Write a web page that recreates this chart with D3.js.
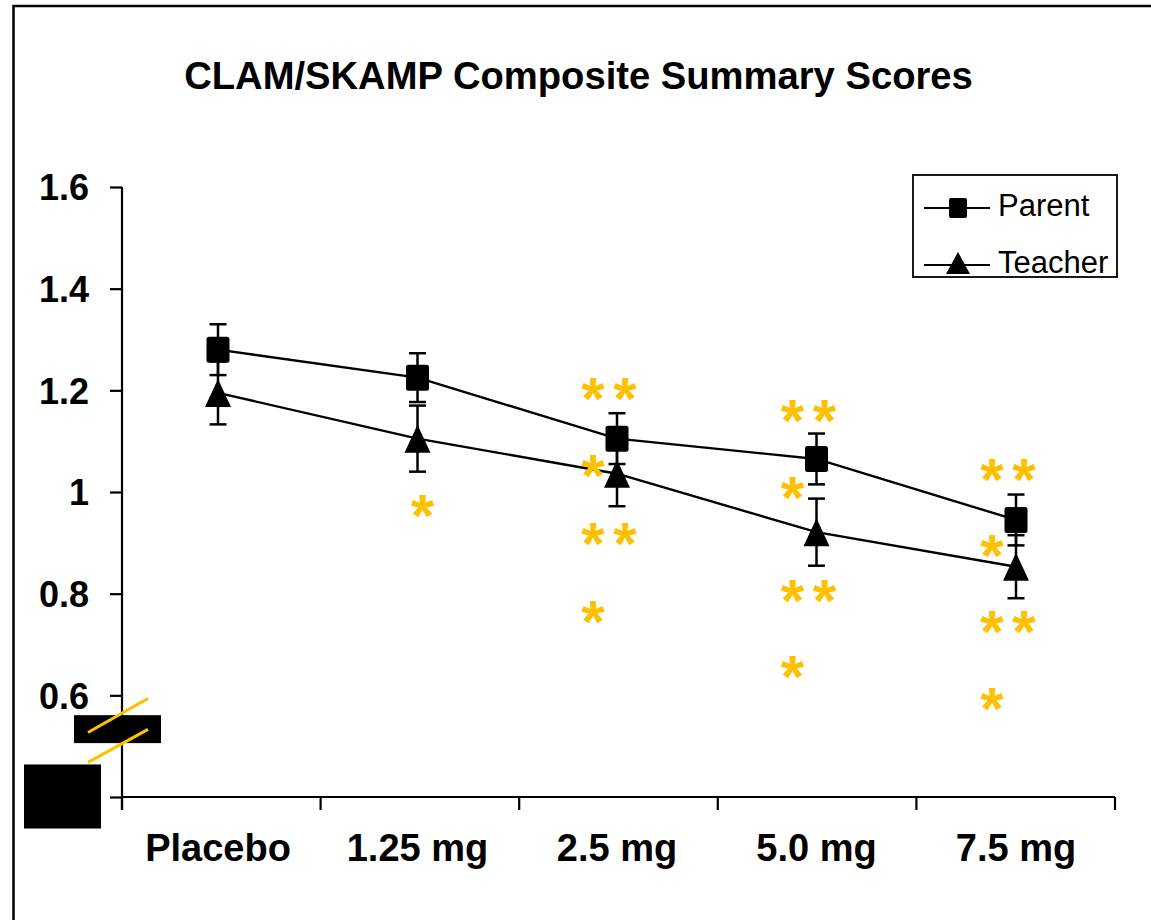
<!DOCTYPE html>
<html>
<head>
<meta charset="utf-8">
<script src="https://cdn.jsdelivr.net/npm/d3@7"></script>
<style>
  html, body { margin: 0; padding: 0; background: #fff; }
  svg { display: block; }
  text { font-family: "Liberation Sans", Arial, sans-serif; }
</style>
</head>
<body>
<svg id="chart" width="1151" height="920"></svg>
<script>
// ---- data ----
const categories = ["Placebo", "1.25 mg", "2.5 mg", "5.0 mg", "7.5 mg"];
const parentValues = [1.280, 1.225, 1.105, 1.065, 0.945];
const parentErrors = [0.050, 0.048, 0.050, 0.050, 0.050];
const teacherValues = [1.195, 1.105, 1.036, 0.921, 0.853];
const teacherErrors = [0.062, 0.065, 0.064, 0.066, 0.062];
const yTicks = [0.4, 0.6, 0.8, 1.0, 1.2, 1.4, 1.6];
const yTickLabels = ["", "0.6", "0.8", "1", "1.2", "1.4", "1.6"];
const seriesNames = ["Parent", "Teacher"];
const title = "CLAM/SKAMP Composite Summary Scores";
// significance asterisks: category, value level, count, side
const starCats   = ["1.25 mg", "2.5 mg", "2.5 mg", "2.5 mg", "2.5 mg", "5.0 mg", "5.0 mg", "5.0 mg", "5.0 mg", "7.5 mg", "7.5 mg", "7.5 mg", "7.5 mg"];
const starValues = [0.970, 1.200, 1.049, 0.915, 0.761, 1.157, 1.006, 0.803, 0.653, 1.041, 0.891, 0.742, 0.590];
const starCounts = [1, 2, 1, 2, 1, 2, 1, 2, 1, 2, 1, 2, 1];
const starSides  = ["center", "left", "left", "left", "left", "left", "left", "left", "left", "left", "left", "left", "left"];

const svg = d3.select("#chart");
const gold = "#FFC000";

// frame
svg.append("rect").attr("x", 13.5).attr("y", 6).attr("width", 1200).attr("height", 1000)
  .attr("fill", "none").attr("stroke", "#000").attr("stroke-width", 2.5);

// scales
const y = d3.scaleLinear().domain([0.4, 1.6]).range([797, 187]);
const xBand = d3.scaleBand().domain(categories).range([122, 1115]);
const x = d3.scalePoint().domain(categories).range([218, 1016]);

// title
svg.append("text").attr("x", 578.5).attr("y", 89).attr("text-anchor", "middle")
  .attr("font-size", 38.2).attr("font-weight", "bold").text(title);

// y axis
const yAxis = d3.axisLeft(y).tickValues(yTicks).tickSize(12).tickFormat((d, i) => yTickLabels[i]);
const gy = svg.append("g").attr("transform", "translate(122,0)").call(yAxis);
gy.select(".domain").remove();
gy.append("line").attr("x1", 0).attr("x2", 0).attr("y1", y(1.6)).attr("y2", 810)
  .attr("stroke", "#000").attr("stroke-width", 2.2);
gy.selectAll(".tick line").attr("stroke", "#000").attr("stroke-width", 2.2);
gy.selectAll(".tick text").attr("x", -33).attr("dy", "0.36em")
  .attr("font-size", 36).attr("font-weight", "bold").attr("fill", "#000")
  .attr("font-family", "Liberation Sans, Arial, sans-serif");

// x axis
svg.append("line").attr("x1", 122).attr("x2", 1115).attr("y1", y(0.4)).attr("y2", y(0.4))
  .attr("stroke", "#000").attr("stroke-width", 2.2);
const bounds = categories.map(c => xBand(c)).concat([xBand.range()[1]]);
svg.selectAll(".xtick").data(bounds).join("line").attr("class", "xtick")
  .attr("x1", d => d).attr("x2", d => d).attr("y1", y(0.4)).attr("y2", y(0.4) + 13)
  .attr("stroke", "#000").attr("stroke-width", 2.2);
svg.selectAll(".xlab").data(categories).join("text").attr("class", "xlab")
  .attr("x", d => x(d)).attr("y", 861).attr("text-anchor", "middle")
  .attr("font-size", 38).attr("font-weight", "bold").text(d => d);

// axis break marker
svg.append("rect").attr("x", 74).attr("y", y(0.561)).attr("width", 87).attr("height", y(0.506) - y(0.561)).attr("fill", "#000");
svg.append("rect").attr("x", 24).attr("y", y(0.464)).attr("width", 77).attr("height", y(0.338) - y(0.464)).attr("fill", "#000");
[[0.527, 0.594], [0.468, 0.533]].forEach(([a, b]) => {
  svg.append("line").attr("x1", 88).attr("y1", y(a)).attr("x2", 148).attr("y2", y(b))
    .attr("stroke", gold).attr("stroke-width", 3);
});

// series
function drawSeries(values, errors, marker) {
  const pts = categories.map((c, i) => ({ x: x(c), y: y(values[i]), lo: y(values[i] - errors[i]), hi: y(values[i] + errors[i]) }));
  svg.append("path").datum(pts)
    .attr("d", d3.line().x(d => d.x).y(d => d.y))
    .attr("fill", "none").attr("stroke", "#000").attr("stroke-width", 2.4);
  const g = svg.append("g");
  pts.forEach(p => {
    g.append("line").attr("x1", p.x).attr("x2", p.x).attr("y1", p.hi).attr("y2", p.lo).attr("stroke", "#000").attr("stroke-width", 2.5);
    [p.hi, p.lo].forEach(v => g.append("line").attr("x1", p.x - 8.5).attr("x2", p.x + 8.5).attr("y1", v).attr("y2", v).attr("stroke", "#000").attr("stroke-width", 2.5));
  });
  pts.forEach(p => {
    if (marker === "square") {
      g.append("rect").attr("x", p.x - 11.5).attr("y", p.y - 13).attr("width", 23).attr("height", 26).attr("rx", 2.5).attr("fill", "#000");
    } else {
      g.append("path").attr("d", `M${p.x},${p.y - 14}L${p.x + 13},${p.y + 14}L${p.x - 13},${p.y + 14}Z`).attr("fill", "#000");
    }
  });
}
drawSeries(parentValues, parentErrors, "square");
drawSeries(teacherValues, teacherErrors, "triangle");

// asterisks
const starFs = 60;
starCats.forEach((c, i) => {
  const cx = x(c);
  const cy = y(starValues[i]);
  let xs;
  if (starCounts[i] === 2) xs = [cx - 24, cx + 8];
  else xs = starSides[i] === "left" ? [cx - 24] : [cx + 5];
  xs.forEach(sx => {
    svg.append("text").attr("x", sx).attr("y", cy + starFs * 0.48).attr("text-anchor", "middle")
      .attr("font-size", starFs).attr("font-weight", "bold").attr("fill", gold).text("*");
  });
});

// legend
const lg = svg.append("g");
lg.append("rect").attr("x", 913).attr("y", 175).attr("width", 204).attr("height", 102)
  .attr("fill", "#fff").attr("stroke", "#000").attr("stroke-width", 1.8);
const legRows = [208, 265];
seriesNames.forEach((name, i) => {
  const ly = legRows[i];
  lg.append("line").attr("x1", 924).attr("x2", 990).attr("y1", ly).attr("y2", ly).attr("stroke", "#000").attr("stroke-width", 2);
  if (i === 0) {
    lg.append("rect").attr("x", 949).attr("y", ly - 10).attr("width", 18).attr("height", 20).attr("rx", 2).attr("fill", "#000");
  } else {
    lg.append("path").attr("d", `M958,${ly - 13}L970,${ly + 9}L946,${ly + 9}Z`).attr("fill", "#000");
  }
  lg.append("text").attr("x", 998).attr("y", ly + 8).attr("font-size", 31).text(name);
});
</script>
</body>
</html>
